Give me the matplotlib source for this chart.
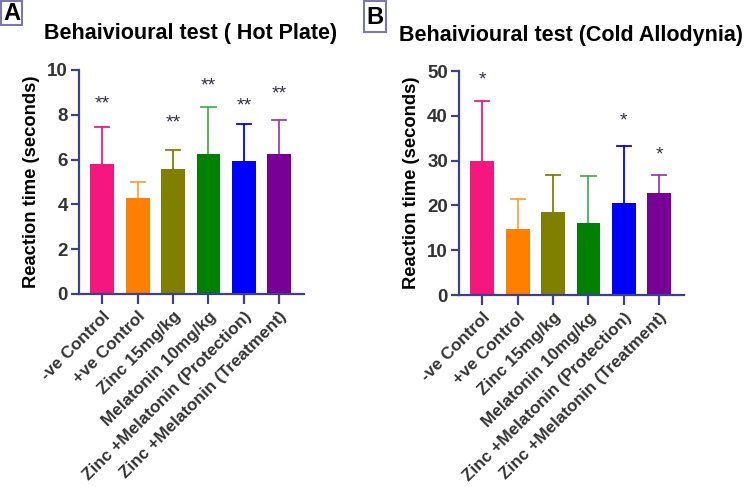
import matplotlib.pyplot as plt
from matplotlib.patches import Rectangle

plt.rcParams['font.family'] = ['Liberation Sans', 'DejaVu Sans']

groups = ["-ve Control", "+ve Control", "Zinc 15mg/kg", "Melatonin 10mg/kg",
          "Zinc +Melatonin (Protection)", "Zinc +Melatonin (Treatment)"]
colors = ["#f5177f", "#ff8000", "#808000", "#008000", "#0000ff", "#780096"]
err_colors = ["#f5177f", "#ffa040", "#808000", "#4caf50", "#0000ff", "#9a40b0"]

hot_mean = [5.80, 4.27, 5.56, 6.25, 5.95, 6.24]
hot_top = [7.47, 4.98, 6.41, 8.36, 7.57, 7.75]
hot_stars = ["**", "", "**", "**", "**", "**"]
hot_star_y = [8.5, 0, 7.65, 9.3, 8.4, 8.95]

cold_mean = [29.9, 14.8, 18.5, 16.0, 20.5, 22.7]
cold_top = [43.3, 21.5, 26.8, 26.6, 33.2, 26.8]
cold_stars = ["*", "", "", "", "*", "*"]
cold_star_y = [48.0, 0, 0, 0, 38.8, 31.2]

axis_col = "#3d4090"
text_col = "#333333"

fig = plt.figure(figsize=(7.44, 4.87), dpi=100)
W, H = 744, 487


def panel(rect, mean, top, stars, star_y, ymax, step, title, tx, ty):
    ax = fig.add_axes(rect)
    x = list(range(len(mean)))
    ax.bar(x, mean, width=0.67, color=colors, zorder=2)
    for i in x:
        c = err_colors[i]
        ax.plot([i, i], [mean[i], top[i]], color=c, lw=1.3, zorder=1)
        ax.plot([i - 0.2, i + 0.2], [top[i], top[i]], color=c, lw=1.3, zorder=1)
        if stars[i]:
            ax.text(i, star_y[i], stars[i], ha="center", va="center",
                    fontsize=14, color="#333344")
    ax.set_xlim(-0.66, 5.7)
    ax.set_ylim(0, ymax)
    ax.set_yticks(range(0, ymax + 1, step))
    ax.set_xticks(x)
    ax.set_xticklabels(groups, rotation=45, ha="right", rotation_mode="anchor",
                       fontsize=12.3, fontweight="bold", color=text_col)
    for lab in ax.get_yticklabels():
        lab.set_fontweight("bold")
        lab.set_fontsize(13.5)
        lab.set_color(text_col)
    ax.set_ylabel("Reaction time (seconds)", fontsize=13.2, fontweight="bold",
                  color="black", labelpad=5)
    for s in ["top", "right"]:
        ax.spines[s].set_visible(False)
    for s in ["left", "bottom"]:
        ax.spines[s].set_color(axis_col)
        ax.spines[s].set_linewidth(1.6)
    ax.tick_params(axis="both", colors=axis_col, width=1.6, length=7,
                   labelcolor=text_col)
    ax.tick_params(axis="y", length=6, pad=2)
    fig.text(tx / W, 1 - ty / H, title, ha="center", va="center",
             fontsize=15.5, fontweight="bold")
    return ax


panel([79 / W, 1 - 294 / H, 225 / W, 224 / H], hot_mean, hot_top, hot_stars,
      hot_star_y, 10, 2, "Behaivioural test ( Hot Plate)", 191, 33)
panel([459 / W, 1 - 295 / H, 225 / W, 224 / H], cold_mean, cold_top, cold_stars,
      cold_star_y, 50, 10, "Behaivioural test (Cold Allodynia)", 571, 35)

for lab, bx, by, bw, bh in [("A", 1, 1, 21, 24), ("B", 364, 1, 22, 31)]:
    fig.patches.append(Rectangle((bx / W, 1 - (by + bh) / H), bw / W, bh / H,
                                 transform=fig.transFigure, fill=False,
                                 edgecolor="#7b78b0", lw=1.5))
    fig.text((bx + bw / 2) / W, 1 - (by + bh / 2 + 1) / H, lab, ha="center",
             va="center", fontsize=17, fontweight="bold")

fig.savefig("out.png", dpi=100)
